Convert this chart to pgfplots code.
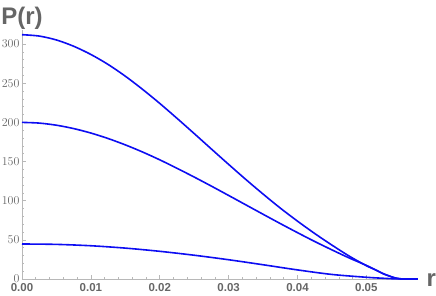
\documentclass[border=0pt]{standalone}
\usepackage{fontspec}
\setmainfont{Liberation Sans}
\usepackage{pgfplots}
\pgfplotsset{compat=1.18}
\definecolor{tickgray}{gray}{0.4}
\definecolor{axgray}{gray}{0.72}
\definecolor{curveblue}{rgb}{0.05,0.05,0.95}
\begin{document}
\begin{tikzpicture}[x=1pt,y=1pt]
\path[use as bounding box] (0,0) rectangle (436,296);
\begin{axis}[
  at={(22pt,17pt)}, anchor=south west,
  scale only axis, width=396pt, height=249pt,
  xmin=0, xmax=0.0575, ymin=0, ymax=318,
  axis lines*=left,
  axis line style={axgray, line width=0.8pt},
  xtick={0,0.01,0.02,0.03,0.04,0.05},
  xticklabels={0.00,0.01,0.02,0.03,0.04,0.05},
  ytick={0,50,100,150,200,250,300},
  minor x tick num=4, minor y tick num=4,
  tick align=inside, major tick length=4pt, minor tick length=2pt,
  tick style={axgray, line width=0.6pt},
  ticklabel style={font=\fontsize{11.5}{11.5}\selectfont\bfseries, text=tickgray},
  x tick label style={yshift=-1pt},
  y tick label style={xshift=1pt},
  scaled x ticks=false,
  clip=false,
  xlabel={r}, ylabel={P(r)},
  xlabel style={at={(axis description cs:1,0)}, anchor=base west, xshift=5pt, yshift=-8pt,
     font=\fontsize{24}{24}\selectfont\bfseries, text=tickgray},
  ylabel style={at={(axis description cs:0,1)}, anchor=base, rotate=-90, yshift=5pt,
     font=\fontsize{24}{24}\selectfont\bfseries, text=tickgray},
]
\addplot[curveblue, line width=1.6pt, no marks, smooth] coordinates {
(0,312) (0.0025,310.25) (0.005,305.25) (0.0075,297.25) (0.01,286.75) (0.0125,274)
(0.015,259) (0.0175,242.25) (0.02,224.25) (0.0225,205.25) (0.025,185.75) (0.0275,166)
(0.03,146.4) (0.0325,127.1) (0.035,108.5) (0.0375,90.6) (0.04,73.9) (0.0425,58.1)
(0.045,43.3) (0.0475,29.3) (0.05,17.0) (0.0515,10.9) (0.0525,6.5) (0.054,1.8)
(0.0548,0.4) (0.0553,0)
};
\addplot[curveblue, line width=1.6pt, no marks, smooth] coordinates {
(0,200) (0.0025,199.1) (0.005,196.4) (0.0075,192.1) (0.01,186.4) (0.0125,179.4)
(0.015,171.3) (0.0175,162.2) (0.02,152.2) (0.0225,141.4) (0.025,130.2) (0.0275,118.6)
(0.03,106.7) (0.0325,94.7) (0.035,82.7) (0.0375,70.8) (0.04,59.2) (0.0425,47.9)
(0.045,37.2) (0.0475,26.9) (0.05,17.4) (0.0515,11.0) (0.0525,6.6) (0.054,1.8)
(0.0548,0.4) (0.0553,0)
};
\addplot[curveblue, line width=1.6pt, no marks, smooth] coordinates {
(0,44.7) (0.005,44.2) (0.01,42.45) (0.015,39.45) (0.02,35.35) (0.025,30.35)
(0.03,24.6) (0.035,18.2) (0.04,11.6) (0.045,5.8) (0.05,2.2) (0.0525,0.9)
(0.054,0.25) (0.0553,0)
};
\addplot[curveblue, line width=1.6pt, no marks] coordinates {(0.0553,0) (0.0575,0)};
\end{axis}
\end{tikzpicture}
\end{document}
